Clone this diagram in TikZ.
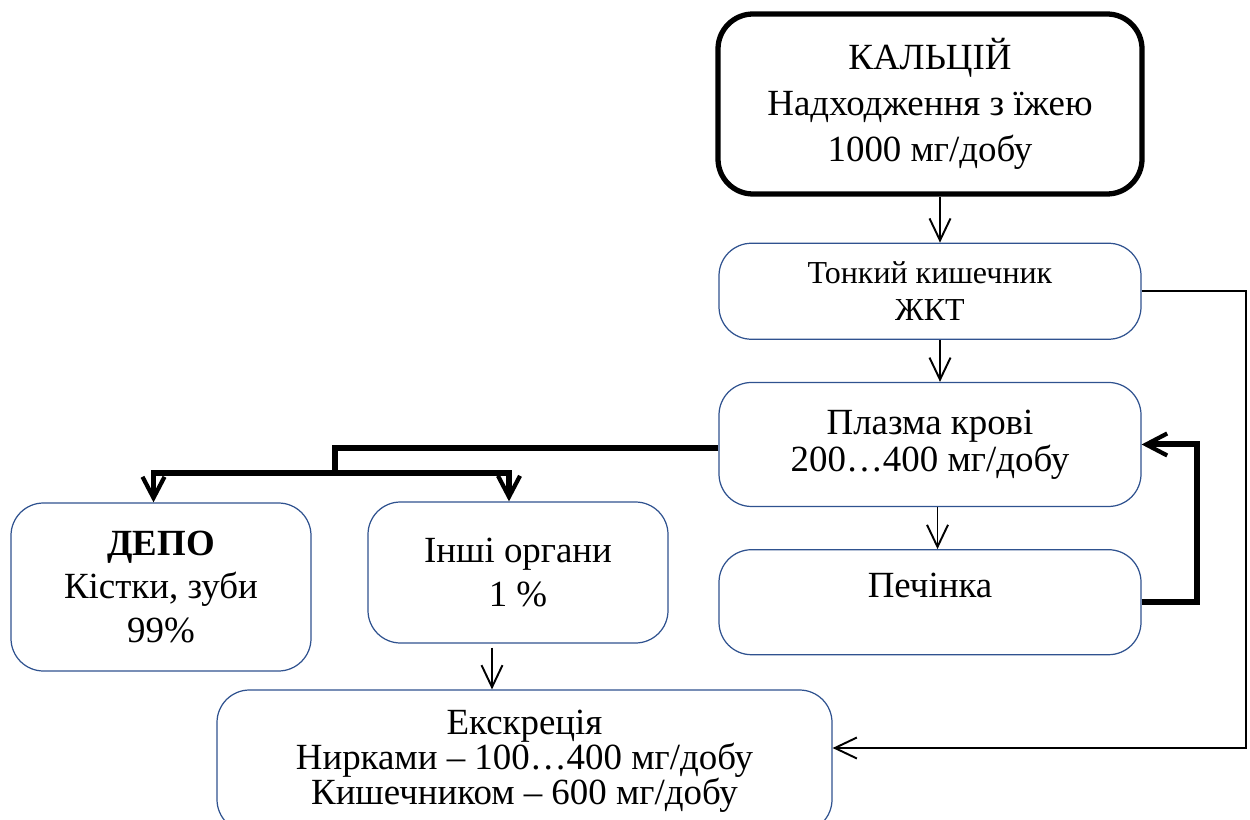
\documentclass[tikz,border=0pt]{standalone}
\usepackage{fontspec}
\setmainfont{Liberation Serif}
\usetikzlibrary{arrows.meta,positioning}
\definecolor{boxblue}{RGB}{47,82,143}

\begin{document}
\begin{tikzpicture}[
      node distance=0.84cm,
      box/.style={draw=boxblue,line width=0.7pt,rounded corners=0.65cm,align=center,inner sep=0pt,font=\fontsize{21}{25}\selectfont},
      mainbox/.style={draw=black,line width=3pt,rounded corners=0.7cm,align=center,inner sep=0pt,minimum width=8.48cm,minimum height=3.6cm,font=\fontsize{21}{26}\selectfont},
      arrow/.style={-{Straight Barb[length=4.4mm,width=4.2mm]},line width=1.1pt},
      thickline/.style={line width=3.4pt},
      thickarrow/.style={thickline,-{Straight Barb[length=4.2mm,width=4.4mm,line width=2.4pt]}}
    ]
      \useasboundingbox (0,0) rectangle (25,-16.4);
      \clip (0,0) rectangle (25,-16.4);

      \node[mainbox] (calcium) at (18.6,-2.08) {КАЛЬЦІЙ\\Надходження з їжею\\1000 мг/добу};
      \node[box,below=0.92cm of calcium,minimum width=8.44cm,minimum height=1.92cm,font=\fontsize{18.2}{20.8}\selectfont] (intestine) {Тонкий кишечник\\ЖКТ};
      \node[box,below=of intestine,minimum width=8.44cm,minimum height=2.48cm,font=\fontsize{21}{21}\selectfont] (plasma) {Плазма крові\\200…400 мг/добу};
      \node[box,below=of plasma,minimum width=8.44cm,minimum height=2.1cm,text height=15pt,text depth=20pt] (liver) {Печінка};
      \node[box,minimum width=6cm,minimum height=3.36cm] (depot) at (3.22,-11.74) {\textbf{ДЕПО}\\Кістки, зуби\\99\%};
      \node[box,minimum width=6cm,minimum height=2.82cm] (organs) at (10.36,-11.45) {Інші органи\\1 \%};
      \node[box,minimum width=12.3cm,minimum height=2.84cm,font=\fontsize{21}{19.8}\selectfont] (excretion) at (10.49,-15.22) {Екскреція\\Нирками – 100…400 мг/добу\\Кишечником – 600 мг/добу};

      \coordinate (split) at (6.7,-9.46);
      \coordinate (organsout) at ([xshift=-5.2mm,yshift=-0.8mm]organs.south);

      \draw[arrow] ([xshift=2mm]calcium.south) -- ([xshift=2mm]intestine.north);
      \draw[arrow] ([xshift=2mm]intestine.south) -- ([xshift=2mm]plasma.north);
      \draw[arrow] ([xshift=1.5mm]plasma.south) -- ([xshift=1.5mm]liver.north);
      \draw[arrow] (organsout) -- (organsout |- excretion.north);
      \draw[arrow] (intestine.east) -- ++(2.08,0) |- ([yshift=2.6mm]excretion.east);
      \draw[thickarrow] (liver.east) -- ++(1.1,0) |- (plasma.east);
      \draw[thickline] ([yshift=-0.8mm]plasma.west) -| (split);
      \draw[thickarrow] (split) -| ([xshift=-1.5mm]depot.north);
      \draw[thickarrow] (split) -| ([xshift=-1.8mm]organs.north);
    \end{tikzpicture}
\end{document}
